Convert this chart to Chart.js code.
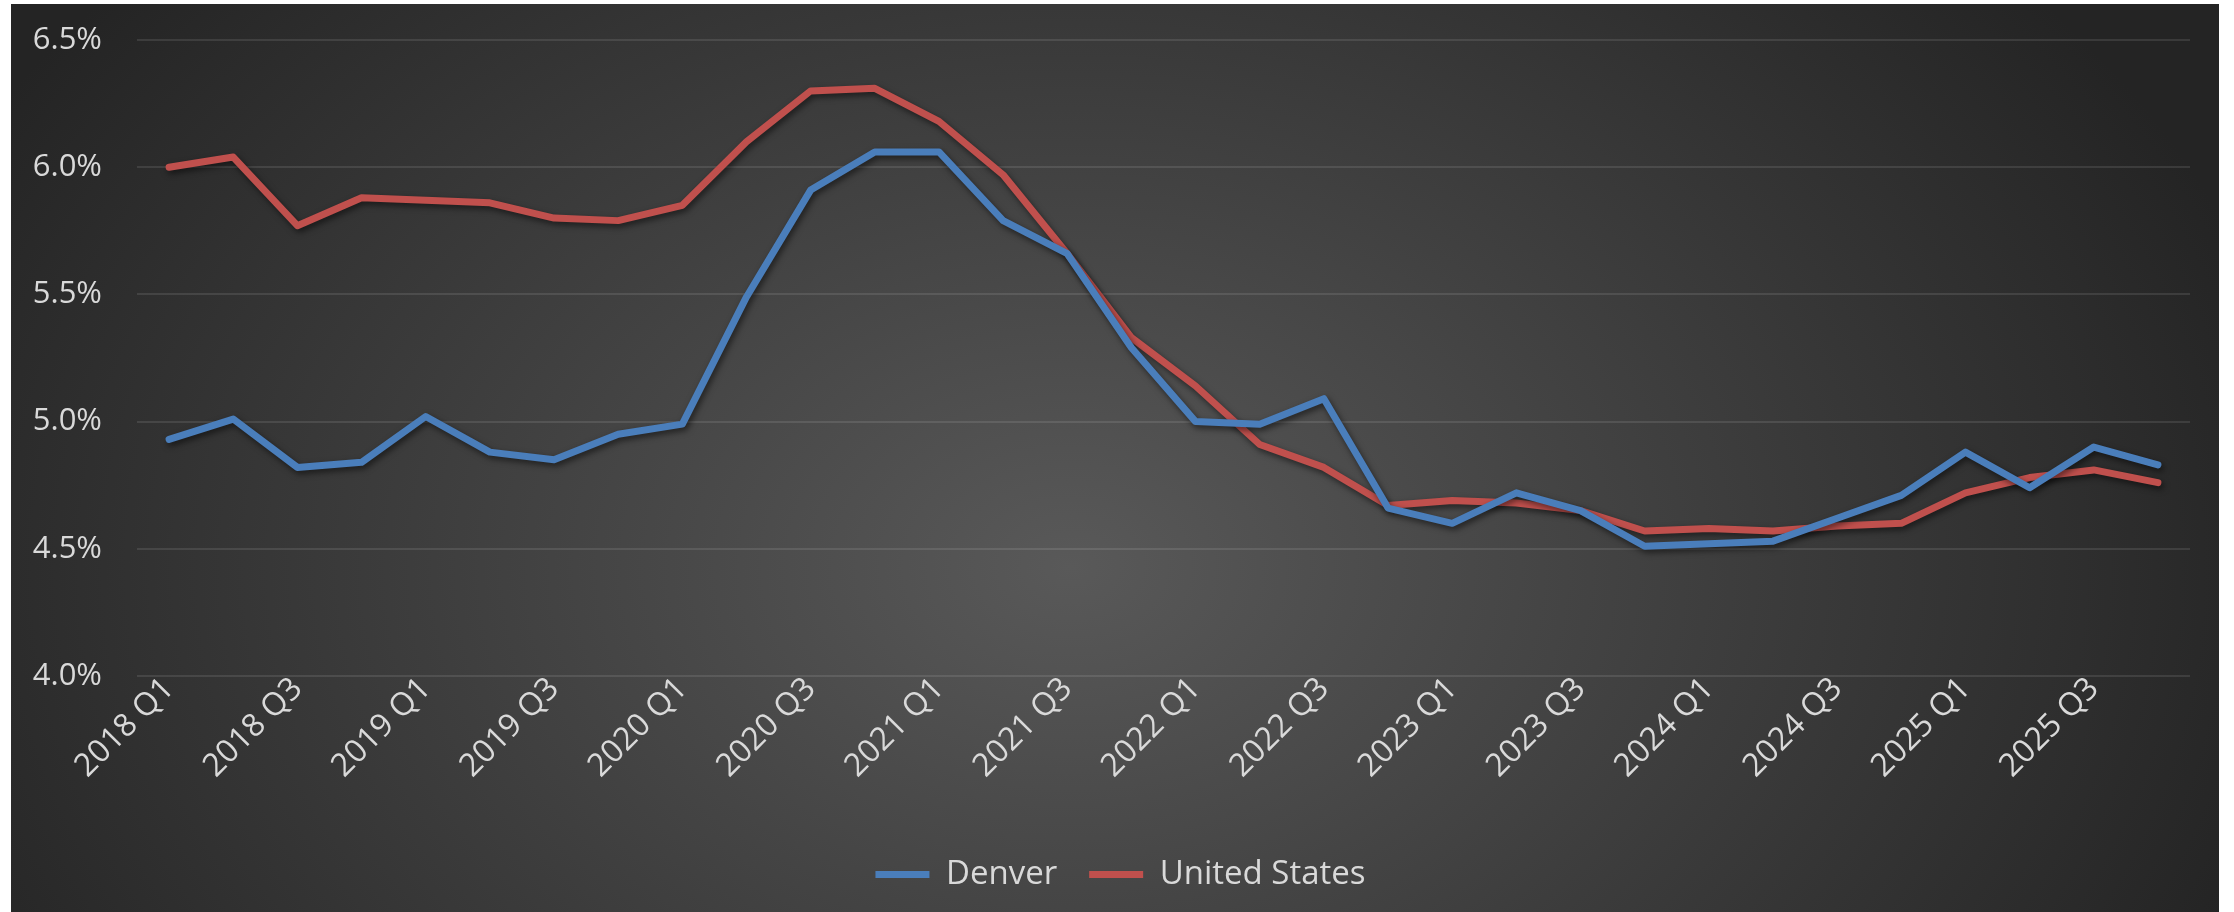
<!DOCTYPE html>
<html>
<head>
<meta charset="utf-8">
<script src="https://cdn.jsdelivr.net/npm/chart.js@4/dist/chart.umd.min.js"></script>
<style>
  html, body { margin: 0; padding: 0; background: #fff; }
  #wrap {
    position: absolute; left: 11px; top: 4px; width: 2208px; height: 908px;
    background: radial-gradient(ellipse 1250px 900px at 48% 62%, #595959 0%, #242424 100%);
  }
</style>
</head>
<body>
<div id="wrap"><canvas id="chart"></canvas></div>
<script>
// quarterly series
const quarters = [];
for (let y = 2018; y <= 2025; y++) for (let q = 1; q <= 4; q++) quarters.push(y + ' Q' + q);

const denver = [
  4.93, 5.01, 4.82, 4.84, 5.02, 4.88, 4.85, 4.95,
  4.99, 5.49, 5.91, 6.06, 6.06, 5.79, 5.66, 5.29,
  5.00, 4.99, 5.09, 4.66, 4.60, 4.72, 4.65, 4.51,
  4.52, 4.53, 4.62, 4.71, 4.88, 4.74, 4.90, 4.83
];
const unitedStates = [
  6.00, 6.04, 5.77, 5.88, 5.87, 5.86, 5.80, 5.79,
  5.85, 6.10, 6.30, 6.31, 6.18, 5.97, 5.66, 5.33,
  5.14, 4.91, 4.82, 4.67, 4.69, 4.68, 4.65, 4.57,
  4.58, 4.57, 4.59, 4.60, 4.72, 4.78, 4.81, 4.76
];
const yTicks = [4.0, 4.5, 5.0, 5.5, 6.0, 6.5];

const textColor = '#d9d9d9';
const FONT = '"Open Sans", "Noto Sans", sans-serif';

// soft drop shadow under the lines, like the office chart
const lineShadow = {
  id: 'lineShadow',
  beforeDatasetsDraw(chart) {
    const c = chart.ctx;
    c.save();
    c.shadowColor = 'rgba(0,0,0,0.55)';
    c.shadowBlur = 6;
    c.shadowOffsetX = 2;
    c.shadowOffsetY = 3;
  },
  afterDatasetsDraw(chart) {
    chart.ctx.restore();
  }
};

// legend sits a little right of the canvas centre in the original
const legendNudge = {
  id: 'legendNudge',
  afterLayout(chart) {
    chart.legend.left += 20;
    chart.legend.right += 20;
  }
};

const lineStyle = { borderWidth: 7, borderCapStyle: 'round', borderJoinStyle: 'round' };

new Chart(document.getElementById('chart'), {
  type: 'line',
  data: {
    labels: quarters,
    datasets: [
      { label: 'Denver', data: denver, borderColor: '#4a7ebb', backgroundColor: '#4a7ebb', ...lineStyle },
      { label: 'United States', data: unitedStates, borderColor: '#c0504d', backgroundColor: '#c0504d', ...lineStyle }
    ]
  },
  options: {
    responsive: true,
    maintainAspectRatio: false,
    animation: false,
    layout: { padding: { top: 36, right: 29, bottom: 11, left: 0 } },
    elements: {
      line: { tension: 0 },
      point: { radius: 0, hoverRadius: 0 }
    },
    plugins: {
      tooltip: { enabled: false },
      legend: {
        position: 'bottom',
        labels: {
          color: textColor,
          font: { family: FONT, size: 33 },
          usePointStyle: true,
          pointStyle: 'line',
          pointStyleWidth: 54,
          padding: 32
        }
      }
    },
    scales: {
      x: {
        offset: true,
        grid: { display: false, drawTicks: false },
        border: { display: false },
        afterFit: s => { s.height = 150; },
        ticks: {
          autoSkip: false,
          minRotation: 45,
          maxRotation: 45,
          padding: -6,
          color: textColor,
          font: { family: FONT, size: 32 },
          callback: (v, i) => (i % 2 === 0 ? quarters[i] : '')
        }
      },
      y: {
        min: yTicks[0],
        max: yTicks[yTicks.length - 1],
        afterFit: s => { s.width = 126; s.paddingTop = 0; s.paddingBottom = 0; },
        afterBuildTicks: s => { s.ticks = yTicks.map(v => ({ value: v })); },
        grid: { color: 'rgba(255,255,255,0.10)', lineWidth: 2, drawTicks: false },
        border: { display: false },
        ticks: {
          padding: 35,
          color: textColor,
          font: { family: FONT, size: 31 },
          callback: v => v.toFixed(1) + '%'
        }
      }
    }
  },
  plugins: [lineShadow, legendNudge]
});
</script>
</body>
</html>
